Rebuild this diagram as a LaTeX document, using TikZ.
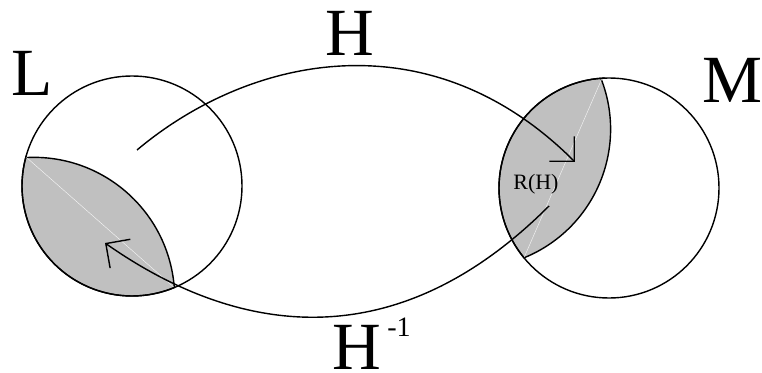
\documentclass[tikz,border=0pt]{standalone}
\usepackage{fontspec}
\setmainfont{Liberation Serif}
\usetikzlibrary{arrows.meta}
\definecolor{grigioregione}{RGB}{192,192,192}

\begin{document}
\begin{tikzpicture}[
  contorno/.style={draw=black, line width=1pt},
  regione/.style={fill=grigioregione, draw=black, line width=1pt},
  corda/.style={draw=white!85!grigioregione, line width=0.3pt},
  freccia/.style={draw=black, line width=1pt, -{Straight Barb[length=4.4mm, width=8.8mm]}},
  lettera/.style={inner sep=0pt, font=\fontsize{48}{48}\selectfont},
  esponente/.style={inner sep=0pt, font=\fontsize{20}{20}\selectfont},
  piccolo/.style={inner sep=0pt, font=\fontsize{15.6}{16}\selectfont}
]

\useasboundingbox (0.000,0.000) rectangle (19.050,-9.325);

%--------------------------------------------------------------
% Insieme L e regione ombreggiata
%--------------------------------------------------------------
\coordinate (la) at (0.648,-3.924);
\coordinate (lb) at (4.356,-7.189);
\draw[regione] (la) arc[start angle=164.7, end angle=292.6, radius=2.750]
  arc[start angle=4.4, end angle=93.0, radius=3.525] -- cycle;
\draw[corda] (la) -- (lb);
\draw[contorno] (3.300,-4.650) circle (2.750);
\node[lettera, anchor=base] (nomel) at (0.800,-2.375) {L};

%--------------------------------------------------------------
% Insieme M e immagine R(H)
%--------------------------------------------------------------
\coordinate (mc) at (15.052,-1.955);
\coordinate (md) at (13.099,-6.446);
\draw[regione] (mc) arc[start angle=93.6, end angle=219.4, radius=2.750]
  arc[start angle=-67.9, end angle=21.3, radius=3.470] -- cycle;
\draw[corda] (mc) -- (md);
\draw[contorno] (15.225,-4.700) circle (2.750);
\node[lettera, anchor=base] (nomem) at (18.320,-2.550) {M};
\node[piccolo, anchor=base] (immagine) at (13.400,-4.725) {R(H)};

%--------------------------------------------------------------
% Mappe H e H^-1
%--------------------------------------------------------------
\coordinate (hinizio) at (3.425,-3.750);
\coordinate (hfine) at (14.375,-4.050);
\draw[freccia] (hinizio) .. controls (6.288,-1.348) and (10.775,-0.450) .. (hfine);
\node[lettera, anchor=base] (mappah) at (8.750,-1.375) {H};

\coordinate (kinizio) at (13.725,-5.150);
\coordinate (kfine) at (2.625,-6.075);
\draw[freccia] (kinizio) .. controls (9.908,-8.968) and (5.975,-8.425) .. (kfine);
\node[lettera, anchor=base] (mappainv) at (8.913,-9.240) {H};
\node[esponente, anchor=base west] (espinv) at (9.675,-8.400) {-1};

\end{tikzpicture}
\end{document}
